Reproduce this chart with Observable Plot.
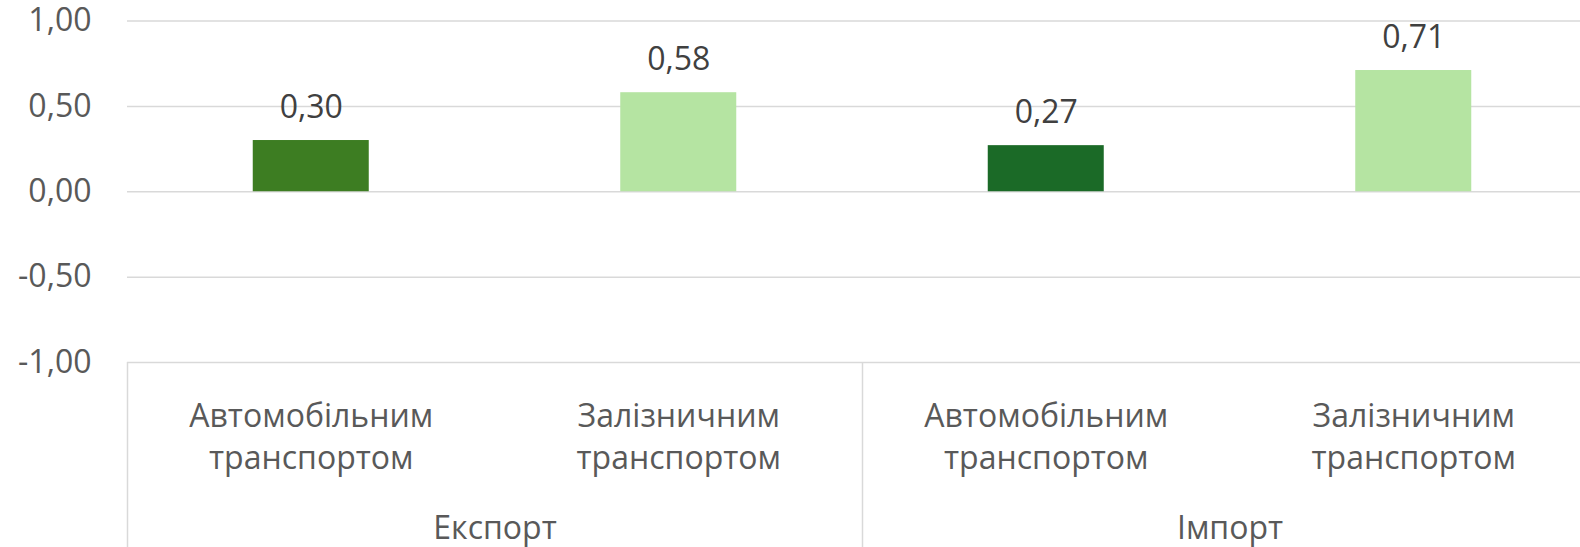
<!DOCTYPE html>
<html><head><meta charset="utf-8">
<script src="https://cdn.jsdelivr.net/npm/d3@7"></script>
<script src="https://cdn.jsdelivr.net/npm/@observablehq/plot@0.6"></script>
<style>html,body{margin:0;padding:0;background:#fff;overflow:hidden}</style>
</head><body><div id="chart"></div>
<script>
const groups = ["Експорт", "Експорт", "Імпорт", "Імпорт"];
const modes = ["Автомобільним\nтранспортом", "Залізничним\nтранспортом", "Автомобільним\nтранспортом", "Залізничним\nтранспортом"];
const values = [0.30, 0.58, 0.27, 0.71];
const palette = ["#3d7d22", "#b5e4a2", "#1b6a27", "#b5e4a2"];
const yTicks = [-1, -0.5, 0, 0.5, 1];

const data = values.map((v, i) => ({i, group: groups[i], mode: modes[i], value: v}));
const groupNames = Array.from(new Set(groups));
const groupSpans = groupNames.map(g => {
  const idx = data.filter(d => d.group === g).map(d => d.i);
  return {group: g, start: d3.min(idx), end: d3.max(idx) + 1};
});
const f2 = d3.format(".2f");
const fmt = v => f2(v).replace("−", "-").replace(".", ",");
const yMin = d3.min(yTicks), yMax = d3.max(yTicks);

const chart = Plot.plot({
  width: 1580,
  height: 547,
  marginLeft: 127,
  marginRight: 0,
  marginTop: 20.5,
  marginBottom: 185,
  style: {fontFamily: "'Open Sans', sans-serif", fontSize: "32px", background: "#fff", color: "#595959", overflow: "visible"},
  x: {type: "linear", domain: [0, values.length], range: [127, 127 + 367.5 * values.length], axis: null},
  y: {domain: [yMin, yMax], axis: null},
  color: {type: "identity"},
  marks: [
    Plot.gridY(yTicks, {stroke: "#d9d9d9", strokeOpacity: 1, strokeWidth: 1.5}),
    Plot.axisY(yTicks, {tickSize: 0, tickPadding: 36, tickFormat: fmt, fontSize: 32, fill: "#595959", label: null}),
    Plot.ruleX(groupSpans.map(d => d.start), {y1: yMin, y2: yMin - 1.1, stroke: "#d9d9d9", strokeWidth: 1.5}),
    Plot.rectY(data, {x1: d => d.i, x2: d => d.i + 1, y1: 0, y2: "value", fill: d => palette[d.i], insetLeft: 125.75, insetRight: 125.75}),
    Plot.text(data, {x: d => d.i + 0.5, y: "value", text: d => fmt(d.value), dy: -33, fill: "#404040", fontSize: 32}),
    Plot.text(data, {x: d => d.i + 0.5, y: yMin, text: "mode", dy: 72, lineHeight: 1.3125, fill: "#595959", fontSize: 32}),
    Plot.text(groupSpans, {x: d => (d.start + d.end) / 2, y: yMin, text: "group", dy: 166, fill: "#595959", fontSize: 32})
  ]
});
document.getElementById("chart").appendChild(chart);
</script>
</body></html>
